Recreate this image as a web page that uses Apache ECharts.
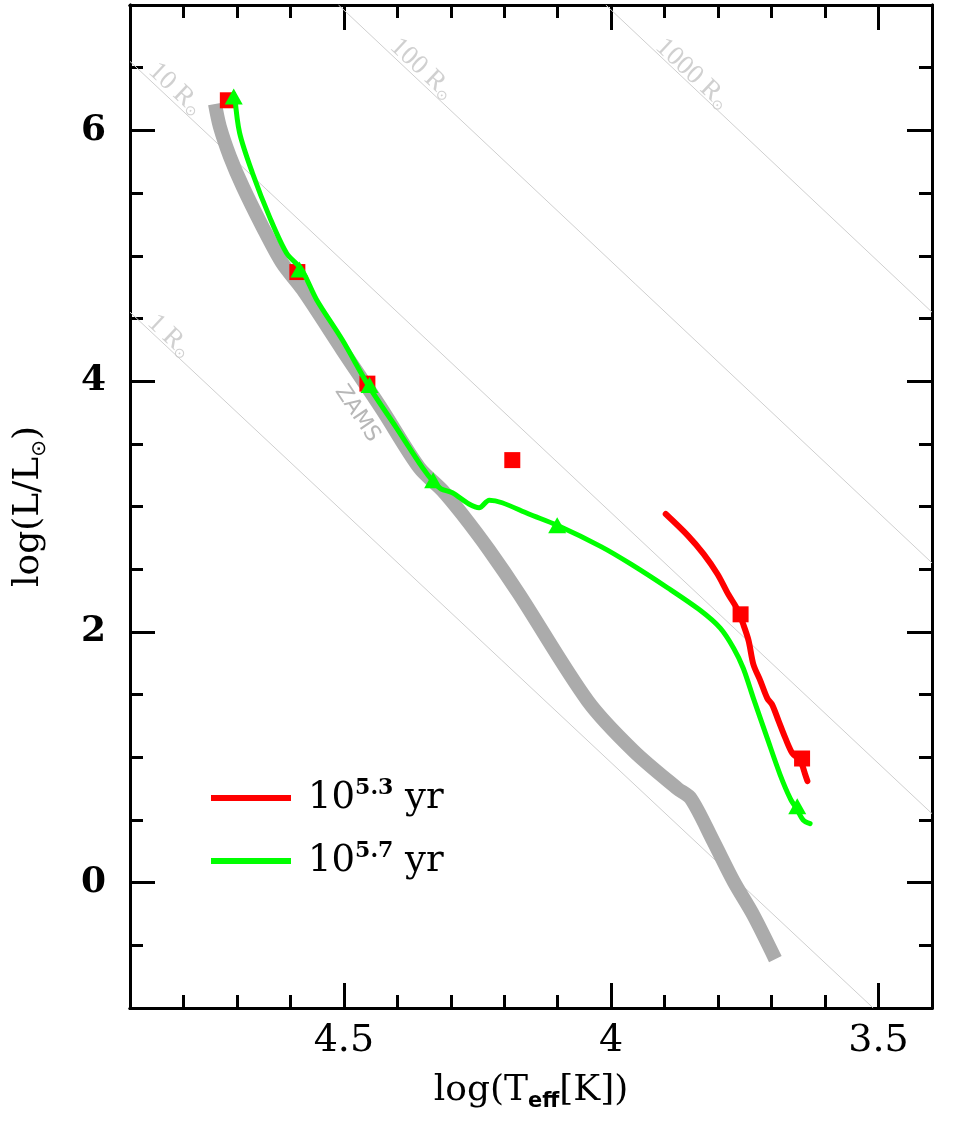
<!DOCTYPE html>
<html>
<head>
<meta charset="utf-8">
<script src="https://cdn.jsdelivr.net/npm/echarts@6/dist/echarts.min.js"></script>
<style>
  html, body { margin: 0; padding: 0; background: #fff; }
  #chart { width: 970px; height: 1124px; }
</style>
</head>
<body>
<div id="chart"></div>
<script>
// ZAMS (grey band)
var zamsT = [4.741, 4.732, 4.713, 4.689, 4.652, 4.615, 4.577, 4.503, 4.428, 4.359, 4.316, 4.279, 4.228, 4.172, 4.044, 3.958, 3.876, 3.851, 3.809, 3.771, 3.734, 3.693];
var zamsL = [6.21, 6.03, 5.79, 5.55, 5.23, 4.94, 4.73, 4.25, 3.77, 3.31, 3.13, 2.94, 2.65, 2.30, 1.45, 1.05, 0.75, 0.67, 0.33, 0.01, -0.26, -0.61];

// 10^5.7 yr isochrone (green)
var greenT = [4.704, 4.695, 4.671, 4.639, 4.607, 4.579, 4.551, 4.503, 4.452, 4.402, 4.353, 4.331, 4.318, 4.297, 4.266, 4.247, 4.228, 4.204, 4.154, 4.101, 4.019, 3.963, 3.894, 3.833, 3.796, 3.771, 3.753, 3.734, 3.708, 3.684, 3.665, 3.652, 3.641, 3.628];
var greenL = [6.27, 5.98, 5.66, 5.31, 5.02, 4.89, 4.65, 4.33, 3.95, 3.63, 3.31, 3.19, 3.14, 3.11, 3.02, 2.99, 3.05, 3.03, 2.94, 2.85, 2.68, 2.54, 2.35, 2.17, 2.03, 1.87, 1.71, 1.47, 1.15, 0.86, 0.67, 0.58, 0.50, 0.47];
var greenMarkT = [4.706, 4.583, 4.452, 4.333, 4.101, 3.652];
var greenMarkL = [6.27, 4.89, 3.97, 3.21, 2.85, 0.61];

// 10^5.3 yr isochrone (red)
var redT = [3.898, 3.857, 3.827, 3.801, 3.781, 3.764, 3.753, 3.743, 3.734, 3.721, 3.708, 3.699, 3.687, 3.674, 3.661, 3.650, 3.643, 3.637, 3.633];
var redL = [2.94, 2.77, 2.62, 2.46, 2.30, 2.18, 2.06, 1.93, 1.74, 1.61, 1.47, 1.42, 1.29, 1.15, 1.03, 0.99, 0.94, 0.86, 0.81];
var redMarkT = [4.717, 4.587, 4.456, 4.185, 3.758, 3.643];
var redMarkL = [6.24, 4.87, 3.98, 3.37, 2.14, 0.99];

// constant-radius lines: end points [logT, logL]
var radiusNames = ['1', '10', '100', '1000'];
var radiusStart = [[4.9, 4.55], [4.9, 6.55], [4.51, 7.0], [4.01, 7.0]];
var radiusEnd = [[3.51, -1.0], [3.4, 0.55], [3.4, 2.55], [3.4, 4.55]];
var radiusLabelPos = [[4.826, 4.36], [4.815, 6.33], [4.354, 6.49], [3.848, 6.45]];

// ticks
var xMajorTicks = [3.5, 4, 4.5];
var xMinorTicks = [3.6, 3.7, 3.8, 3.9, 4.1, 4.2, 4.3, 4.4, 4.6, 4.7, 4.8];
var yMajorTicks = [0, 2, 4, 6];
var yMinorTicks = [-0.5, 0.5, 1, 1.5, 2.5, 3, 3.5, 4.5, 5, 5.5, 6.5];

function pairs(xs, ys) {
    return xs.map(function (x, i) { return [x, ys[i]]; });
}

var serif = 'DejaVu Serif';
var axisLine = { show: true, onZero: false, lineStyle: { color: '#000', width: 3 } };

function xAx(pos, ticks, len, main) {
    return {
        type: 'value', position: pos, min: 3.4, max: 4.9, inverse: true,
        splitLine: { show: false },
        axisLine: axisLine,
        axisTick: { show: true, inside: true, length: len, customValues: ticks, lineStyle: { color: '#000', width: 3 } },
        axisLabel: main ? {
            show: true, customValues: xMajorTicks, margin: 14,
            fontFamily: serif, fontSize: 38, color: '#000'
        } : { show: false },
        name: main ? 'log(T{sub|eff}[K])' : '',
        nameLocation: 'middle', nameGap: 62,
        nameTextStyle: {
            fontFamily: serif, fontSize: 36, color: '#000', lineHeight: 42,
            rich: { sub: { fontFamily: 'DejaVu Sans', fontWeight: 'bold', fontSize: 21, verticalAlign: 'bottom', lineHeight: 22 } }
        }
    };
}

function yAx(pos, ticks, len, main) {
    return {
        type: 'value', position: pos, min: -1, max: 7,
        splitLine: { show: false },
        axisLine: axisLine,
        axisTick: { show: true, inside: true, length: len, customValues: ticks, lineStyle: { color: '#000', width: 3 } },
        axisLabel: main ? {
            show: true, customValues: yMajorTicks, margin: 24,
            fontFamily: serif, fontWeight: 'bold', fontSize: 36, color: '#000'
        } : { show: false },
        name: main ? 'log(L/L{sub|⊙})' : '',
        nameLocation: 'middle', nameGap: 80, nameRotate: 90,
        nameTextStyle: {
            fontFamily: serif, fontSize: 36, color: '#000', lineHeight: 42,
            rich: { sub: { fontFamily: 'DejaVu Sans', fontSize: 20, verticalAlign: 'bottom', lineHeight: 22 } }
        }
    };
}

var series = [];

radiusNames.forEach(function (r, i) {
    series.push({
        type: 'line', data: [radiusStart[i], radiusEnd[i]], symbol: 'none', silent: true,
        lineStyle: { color: '#cfcfcf', width: 1 }, z: 1
    });
});

series.push({
    type: 'scatter', symbolSize: 0, silent: true, z: 1,
    data: radiusLabelPos.map(function (p, i) { return { value: p, name: radiusNames[i] }; }),
    label: {
        show: true, position: 'inside', rotate: -43,
        formatter: function (p) { return '{a|' + p.name + ' R}{s|⊙}'; },
        rich: {
            a: { fontFamily: 'Liberation Serif', fontSize: 27, color: '#c4c4c4' },
            s: { fontFamily: 'DejaVu Sans', fontSize: 14, color: '#c4c4c4', verticalAlign: 'bottom', padding: [10, 0, 0, 0] }
        }
    }
});

series.push({
    type: 'line', data: pairs(zamsT, zamsL), symbol: 'none', silent: true, z: 2, smooth: 0.3,
    lineStyle: { color: '#ababab', width: 14 }
});
series.push({
    type: 'scatter', symbolSize: 0, silent: true, z: 2,
    data: [[4.475, 3.74]],
    label: {
        show: true, position: 'inside', rotate: -56, formatter: 'ZAMS',
        fontFamily: 'DejaVu Sans', fontSize: 22, color: '#a5a5a5'
    }
});

series.push({
    name: 'r', type: 'line', data: pairs(redT, redL), symbol: 'none', z: 3, smooth: 0.3,
    lineStyle: { color: '#ff0000', width: 6, cap: 'round', join: 'round' }, itemStyle: { color: '#ff0000' }
});
series.push({
    type: 'scatter', data: pairs(redMarkT, redMarkL), symbol: 'rect', symbolSize: 16, z: 4,
    itemStyle: { color: '#ff0000', opacity: 1 }
});
series.push({
    name: 'g', type: 'line', data: pairs(greenT, greenL), symbol: 'none', z: 5, smooth: 0.3,
    lineStyle: { color: '#00ff00', width: 5, cap: 'round', join: 'round' }, itemStyle: { color: '#00ff00' }
});
series.push({
    type: 'scatter', data: pairs(greenMarkT, greenMarkL), symbol: 'triangle', symbolSize: [18, 16], z: 6,
    itemStyle: { color: '#00ff00', opacity: 1 }
});

var legendText = { r: '10{sup|5.3} yr', g: '10{sup|5.7} yr' };

var chart = echarts.init(document.getElementById('chart'));
chart.setOption({
    animation: false,
    backgroundColor: '#fff',
    grid: { left: 128, right: 38, top: 5, bottom: 116, containLabel: false },
    xAxis: [
        xAx('bottom', xMajorTicks, 25, true),
        xAx('bottom', xMinorTicks, 13, false),
        xAx('top', xMajorTicks, 25, false),
        xAx('top', xMinorTicks, 13, false)
    ],
    yAxis: [
        yAx('left', yMajorTicks, 25, true),
        yAx('left', yMinorTicks, 13, false),
        yAx('right', yMajorTicks, 25, false),
        yAx('right', yMinorTicks, 13, false)
    ],
    legend: {
        data: ['r', 'g'], orient: 'vertical', left: 206, top: 772,
        icon: 'rect', itemWidth: 80, itemHeight: 6, itemGap: 21,
        formatter: function (n) { return legendText[n]; },
        textStyle: {
            fontFamily: serif, fontSize: 37, color: '#000', lineHeight: 42, padding: [0, 0, 0, 12],
            rich: { sup: { fontFamily: serif, fontWeight: 'bold', fontSize: 22, verticalAlign: 'top', lineHeight: 28 } }
        }
    },
    series: series
});
</script>
</body>
</html>
